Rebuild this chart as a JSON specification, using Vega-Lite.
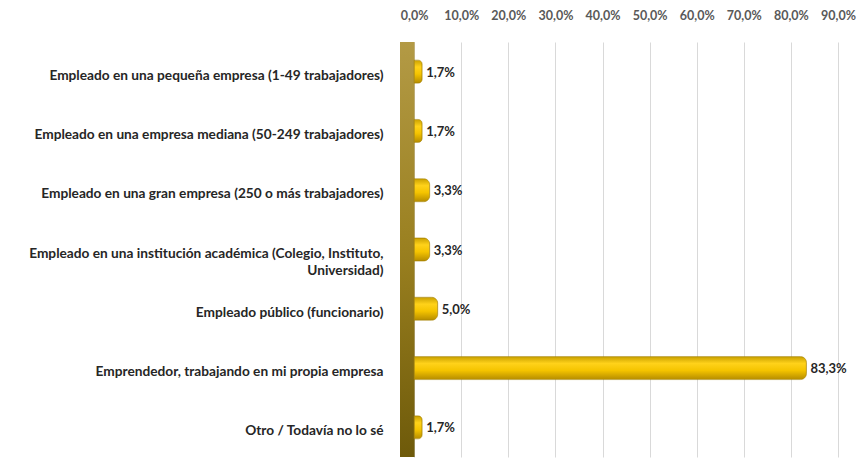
{
  "$schema": "https://vega.github.io/schema/vega-lite/v6.json",
  "autosize": "none",
  "width": 438,
  "height": 415,
  "padding": {"left": 400, "top": 42, "right": 21, "bottom": 3},
  "background": "white",
  "config": {
    "locale": {"number": {"decimal": ",", "thousands": ".", "grouping": [3], "currency": ["", " €"]}},
    "view": {"stroke": null},
    "font": "Lato"
  },
  "data": {
    "values": [
      {"categoria": "Empleado en una pequeña empresa (1-49 trabajadores)", "valor": 0.017},
      {"categoria": "Empleado en una empresa mediana (50-249 trabajadores)", "valor": 0.017},
      {"categoria": "Empleado en una gran empresa (250 o más trabajadores)", "valor": 0.033},
      {"categoria": "Empleado en una institución académica (Colegio, Instituto, Universidad)", "valor": 0.033},
      {"categoria": "Empleado público (funcionario)", "valor": 0.05},
      {"categoria": "Emprendedor, trabajando en mi propia empresa", "valor": 0.833},
      {"categoria": "Otro / Todavía no lo sé", "valor": 0.017}
    ]
  },
  "encoding": {
    "y": {
      "field": "categoria",
      "type": "nominal",
      "sort": null,
      "title": null,
      "scale": {"paddingInner": 0, "paddingOuter": 0},
      "axis": {
        "orient": "left",
        "domain": false,
        "ticks": false,
        "labelPadding": 17,
        "labelFont": "Lato",
        "labelFontWeight": "bold",
        "labelFontSize": 13.7,
        "labelColor": "#262626",
        "labelLimit": 400,
        "labelOffset": 4,
        "labelLineHeight": 17,
        "labelExpr": "datum.label == 'Empleado en una institución académica (Colegio, Instituto, Universidad)' ? ['Empleado en una institución académica (Colegio, Instituto,', 'Universidad)'] : datum.label"
      }
    }
  },
  "layer": [
    {
      "mark": {
        "type": "rect",
        "color": {"gradient": "linear", "x1": 0, "y1": 0, "x2": 0, "y2": 1,
          "stops": [{"offset": 0, "color": "#B39A45"}, {"offset": 0.5, "color": "#9A8020"}, {"offset": 1, "color": "#6E5A0A"}]}
      },
      "encoding": {
        "x": {"datum": -0.03, "type": "quantitative"},
        "x2": {"datum": 0},
        "y": {"value": 0},
        "y2": {"value": 415}
      }
    },
    {
      "mark": {
        "type": "bar",
        "size": 23,
        "cornerRadiusEnd": 6,
        "color": {"gradient": "linear", "x1": 0, "y1": 0, "x2": 0, "y2": 1,
          "stops": [{"offset": 0, "color": "#C9A000"}, {"offset": 0.3, "color": "#FFD21A"}, {"offset": 0.6, "color": "#F5C400"}, {"offset": 1, "color": "#B58C00"}]},
        "stroke": "#A88300",
        "strokeWidth": 0.6
      },
      "encoding": {
        "x": {
          "field": "valor",
          "type": "quantitative",
          "title": null,
          "scale": {"domain": [-0.03, 0.9], "nice": false, "zero": false},
          "axis": {
            "orient": "top",
            "values": [0, 0.1, 0.2, 0.3, 0.4, 0.5, 0.6, 0.7, 0.8, 0.9],
            "format": ".1%",
            "domain": false,
            "ticks": false,
            "labelOverlap": false,
            "labelFlush": false,
            "labelPadding": 20,
            "labelFont": "Lato",
            "labelFontWeight": "bold",
            "labelFontSize": 12.5,
            "labelColor": "#595959",
            "grid": true,
            "gridColor": "#D9D9D9",
            "gridWidth": 1
          }
        }
      }
    },
    {
      "mark": {"type": "text", "align": "left", "dx": 4, "dy": 1, "font": "Lato", "fontWeight": "bold", "fontSize": 13, "color": "#262626"},
      "encoding": {
        "x": {"field": "valor", "type": "quantitative"},
        "text": {"field": "valor", "type": "quantitative", "format": ".1%"}
      }
    }
  ]
}
